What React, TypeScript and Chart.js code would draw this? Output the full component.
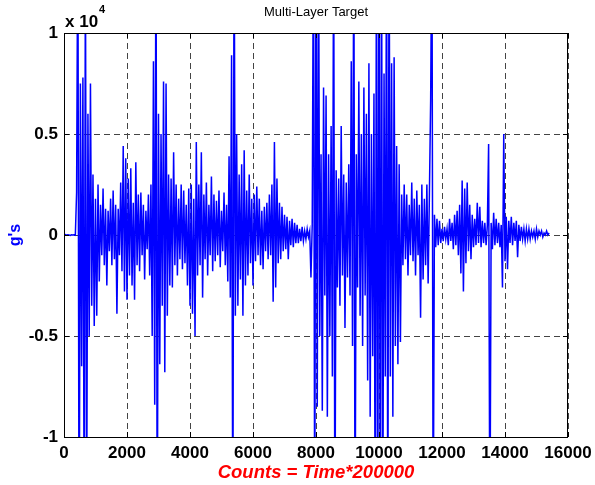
import React, { useEffect, useRef } from "react";
import { Chart, registerables } from "chart.js";

Chart.register(...registerables);

// Sampling step (counts) of the digitised record
const SAMPLE_STEP = 40;

// g's, sampled every SAMPLE_STEP counts, one array per 2000-count block
const gs0to2000 = [0, 20, -10, 10, 0, -20, 10, 0, 10, -10, 2100, 16000, -18000, 7500, -6500, 7800, -15000, 14000, -14000, 6000, -5000, 7500, -3500, 3000, -4500, 1800, -4000, 2500, -2300, 1500, -1000, 2300, -1500, 1300, -2500, 1200, -800, 1800, -1500, 2200, -1200, 1500, -3900, 1300, -1000, 2600, -1800, 4400, -2800, 3800];
const gs2000to4000 = [-3200, 2800, -2000, 3300, -2500, 1600, -3200, 3600, -1500, 2000, -1800, 2100, -1000, 1500, -2200, 1200, -700, 2000, -2000, 2500, -5000, 8600, -8400, 16000, -16000, 6000, -6400, 5000, -3500, 7600, -6800, 7500, -4000, 3000, -2500, 2800, -2600, 4100, -1500, 2500, -2000, 1800, -1200, 2500, -1700, 2200, -1400, 1500, -2500, 2300];
const gs4000to6000 = [-3500, 2500, -3900, 1800, -5000, 4600, -2000, 2500, -1500, 4100, -3100, 2000, -1200, 2600, -2000, 1500, -1000, 2900, -1800, 2000, -1300, 1700, -1000, 2200, -1600, 1200, -800, 2100, -1500, 1500, -2300, 3900, -3100, 8900, -16000, 16000, -4000, 5000, -3500, 3000, -2200, 3500, -4000, 4200, -2500, 2200, -2000, 3000, -1400, 1800];
const gs6000to8000 = [-2500, 2000, -1300, 2400, -1000, 1800, -1500, 1200, -1700, 1400, -800, 1600, -1200, 2000, -1000, 2500, -3300, 4600, -2600, 2800, -1400, 1600, -1200, 1400, -800, 1000, -700, 900, -1200, 700, -500, 800, -600, 600, -400, 500, -400, 300, -300, 400, -300, 200, -200, 300, -100, 200, -2100, 500, 16000, -16000];
const gs8000to10000 = [16000, -8500, 16000, -5000, 4000, -8700, 7300, -3000, 6900, -9000, 4000, -5000, 5400, -7000, 16000, -16000, 3200, -2600, 2800, -3500, 5400, -2000, 3000, -4600, 2600, -2100, 3500, -3000, 8600, -5500, 16000, -16000, 4000, -2600, 7600, -4000, 5000, -5500, 7300, -3000, 6000, -7200, 8500, -9000, 5000, -6000, 7000, -16000, 16000, -16000];
const gs10000to12000 = [16000, -16000, 16000, -16000, 8000, -7000, 16000, -16000, 16000, -7000, 8500, -9000, 8800, -5500, 4400, -6400, 3500, -5300, 2000, -1500, 2500, -1200, 2000, -2000, 1500, -1000, 2600, -1300, 1800, -2000, 2200, -1000, 1500, -4100, 2500, -2200, 1800, -1500, 2500, -2400, 2000, 6700, 16000, -16000, 1000, -600, 800, -500, 700, -400];
const gs12000to14000 = [300, -300, 400, -200, 300, -500, 800, -300, 600, -700, 1000, -500, 1200, -1000, 1500, -1900, 2700, -2800, 2300, -1400, 2600, -800, 1500, -1200, 1000, -600, 800, -500, 1600, -400, 1400, -600, 700, -400, 600, -500, 500, 4500, -16000, 600, -700, 1100, -500, 800, -400, 600, -600, 500, -2600, 5000];
const gs14000to15400 = [-1300, 900, -1700, 700, -400, 900, -500, 600, -300, 700, -1100, 500, -300, 400, -200, 300, -300, 300, -200, 300, -200, 200, -100, 200, -200, 300, -100, 200, 0, 200, -100, 100, 0, 200, 0, 100];

const blockStarts = [0, 2000, 4000, 6000, 8000, 10000, 12000, 14000];
const blocks = [gs0to2000, gs2000to4000, gs4000to6000, gs6000to8000, gs8000to10000, gs10000to12000, gs12000to14000, gs14000to15400];

// Axis ticks
const xTicks = [0, 2000, 4000, 6000, 8000, 10000, 12000, 14000, 16000];
const yTicks = [-10000, -5000, 0, 5000, 10000];

const TITLE = "Multi-Layer Target";
const X_LABEL = "Counts = Time*200000";
const Y_LABEL = "g's";

const FONT = "'Liberation Sans', Arial, Helvetica, sans-serif";

const decorPlugin = {
  id: "decor",
  afterDraw(chart: any) {
    const { ctx, chartArea } = chart;
    const { left, top, right, bottom } = chartArea;
    const xs = chart.scales.x;
    const ys = chart.scales.y;
    ctx.save();
    // box
    ctx.strokeStyle = "#000";
    ctx.lineWidth = 1;
    ctx.setLineDash([]);
    ctx.strokeRect(left + 0.5, top + 0.5, right - left - 1, bottom - top);
    // inward tick marks
    ctx.beginPath();
    xTicks.forEach((v) => {
      const px = Math.round(xs.getPixelForValue(v)) + 0.5;
      ctx.moveTo(px, bottom);
      ctx.lineTo(px, bottom - 5);
      ctx.moveTo(px, top);
      ctx.lineTo(px, top + 5);
    });
    yTicks.forEach((v) => {
      const py = Math.round(ys.getPixelForValue(v)) + 0.5;
      ctx.moveTo(left, py);
      ctx.lineTo(left + 5, py);
      ctx.moveTo(right, py);
      ctx.lineTo(right - 5, py);
    });
    ctx.stroke();

    // title
    ctx.fillStyle = "#000";
    ctx.font = `13px ${FONT}`;
    ctx.textAlign = "center";
    ctx.textBaseline = "middle";
    ctx.fillText(TITLE, (left + right) / 2, 12);

    // exponent
    ctx.font = `bold 17px ${FONT}`;
    ctx.textAlign = "left";
    ctx.textBaseline = "alphabetic";
    ctx.fillText("x 10", left + 1, 27);
    const w = ctx.measureText("x 10").width;
    ctx.font = `bold 11px ${FONT}`;
    ctx.fillText("4", left + 1 + w + 1, 13);

    // x label
    ctx.fillStyle = "#ff0000";
    ctx.font = `italic bold 18.5px ${FONT}`;
    ctx.textAlign = "center";
    ctx.textBaseline = "middle";
    ctx.fillText(X_LABEL, (left + right) / 2, 473);

    // y label
    ctx.fillStyle = "#0000ff";
    ctx.font = `bold 16px ${FONT}`;
    ctx.translate(16, (top + bottom) / 2);
    ctx.rotate(-Math.PI / 2);
    ctx.fillText(Y_LABEL, 0, 0);
    ctx.restore();
  },
};

export default function App() {
  const ref = useRef<HTMLCanvasElement>(null);
  useEffect(() => {
    document.body.style.margin = "0";
    const points: { x: number; y: number }[] = [];
    blocks.forEach((arr, b) => {
      arr.forEach((g, i) => {
        points.push({ x: blockStarts[b] + i * SAMPLE_STEP, y: g });
      });
    });
    const chart = new Chart(ref.current as HTMLCanvasElement, {
      type: "line",
      data: {
        datasets: [
          {
            data: points,
            borderColor: "#0000ff",
            borderWidth: 1.5,
            pointRadius: 0,
            tension: 0,
            fill: false,
          },
        ],
      },
      options: {
        animation: false,
        responsive: false,
        events: [],
        layout: { padding: { left: 0, top: 33, right: 27, bottom: 0 } },
        plugins: {
          legend: { display: false },
          title: { display: false },
          tooltip: { enabled: false },
        },
        scales: {
          x: {
            type: "linear",
            min: 0,
            max: 16000,
            afterFit: (s: any) => {
              s.height = 48;
              s.paddingLeft = 0;
              s.paddingRight = 0;
            },
            afterBuildTicks: (s: any) => {
              s.ticks = xTicks.map((v) => ({ value: v }));
            },
            ticks: {
              autoSkip: false,
              maxRotation: 0,
              padding: 6,
              color: "#000",
              font: { family: FONT, size: 17, weight: "bold" },
              callback: (v: any) => String(v),
            },
            grid: { color: "#444", lineWidth: 1, drawTicks: false },
            border: { display: false, dash: [6, 4] },
          },
          y: {
            type: "linear",
            min: -10000,
            max: 10000,
            afterFit: (s: any) => {
              s.width = 64;
              s.paddingTop = 0;
              s.paddingBottom = 0;
            },
            afterBuildTicks: (s: any) => {
              s.ticks = yTicks.map((v) => ({ value: v }));
            },
            ticks: {
              autoSkip: false,
              padding: 6,
              color: "#000",
              font: { family: FONT, size: 17, weight: "bold" },
              callback: (v: any) => String(Number(v) / 10000),
            },
            grid: { color: "#444", lineWidth: 1, drawTicks: false },
            border: { display: false, dash: [6, 4] },
          },
        },
      },
      plugins: [decorPlugin],
    });
    return () => chart.destroy();
  }, []);
  return <canvas ref={ref} width={595} height={485} style={{ display: "block" }} />;
}
